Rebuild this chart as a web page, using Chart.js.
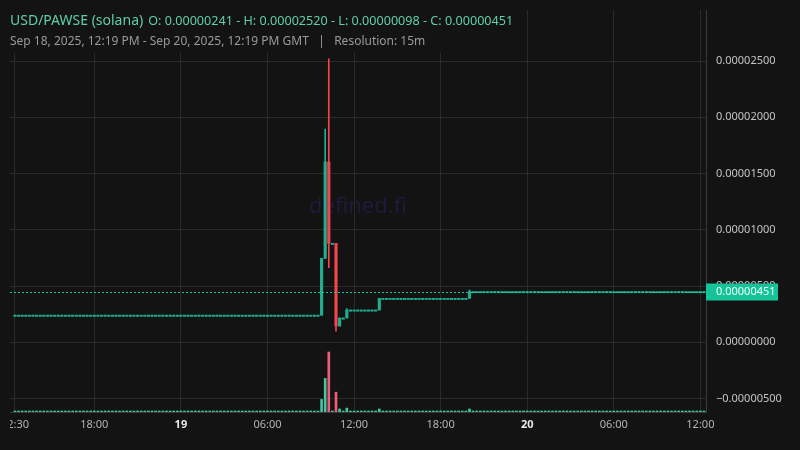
<!DOCTYPE html>
<html><head><meta charset="utf-8">
<script src="https://cdn.jsdelivr.net/npm/chart.js@4.4.1/dist/chart.umd.min.js"></script>
<style>
html,body{margin:0;padding:0;background:#131313;width:800px;height:450px;overflow:hidden;}
#wrap{position:absolute;left:10px;top:0;width:790px;height:450px;}
#hdr{position:absolute;left:0;top:0;width:508px;height:53px;background:#131313;font-family:"Noto Sans",sans-serif;}
#l1{position:absolute;left:10px;top:8px;white-space:nowrap;color:#5fcfac;line-height:22px;}
#l1 .sym{font-size:14px}
#l1 .ohlc{font-size:12.6px;margin-left:5px}
#l2{position:absolute;left:10px;top:31px;white-space:nowrap;color:#9a9a9a;font-size:12px;line-height:20px;}
</style></head><body>
<div id="wrap"><canvas id="c" width="790" height="450"></canvas></div>
<div id="hdr"><div id="l1"><span class="sym" id="sym"></span><span class="ohlc" id="ohlc"></span></div><div id="l2"></div></div>
<script>
// ---- data (15m candles, first candle Sep 18 2025 12:30 GMT) ----
const symbol = "USD/PAWSE (solana)";
const rangeText = "Sep 18, 2025, 12:19 PM - Sep 20, 2025, 12:19 PM GMT";
const resolution = "15m";
const firstCandleHour = 12.5;   // hours since Sep 18 00:00 GMT
const candleStepHours = 0.25;

const open = [
2.41e-6,2.41e-6,2.41e-6,2.41e-6,2.41e-6,2.41e-6,2.41e-6,2.41e-6,2.41e-6,2.41e-6,
2.41e-6,2.41e-6,2.41e-6,2.41e-6,2.41e-6,2.41e-6,2.41e-6,2.41e-6,2.41e-6,2.41e-6,
2.41e-6,2.41e-6,2.41e-6,2.41e-6,2.41e-6,2.41e-6,2.41e-6,2.41e-6,2.41e-6,2.41e-6,
2.41e-6,2.41e-6,2.41e-6,2.41e-6,2.41e-6,2.41e-6,2.41e-6,2.41e-6,2.41e-6,2.41e-6,
2.41e-6,2.41e-6,2.41e-6,2.41e-6,2.41e-6,2.41e-6,2.41e-6,2.41e-6,2.41e-6,2.41e-6,
2.41e-6,2.41e-6,2.41e-6,2.41e-6,2.41e-6,2.41e-6,2.41e-6,2.41e-6,2.41e-6,2.41e-6,
2.41e-6,2.41e-6,2.41e-6,2.41e-6,2.41e-6,2.41e-6,2.41e-6,2.41e-6,2.41e-6,2.41e-6,
2.41e-6,2.41e-6,2.41e-6,2.41e-6,2.41e-6,2.41e-6,2.41e-6,2.41e-6,2.41e-6,2.41e-6,
2.41e-6,2.41e-6,2.41e-6,2.41e-6,2.41e-6,2.41e-6,
7.47e-6,1.603e-5,8.80e-6,8.80e-6,1.45e-6,2.16e-6,2.16e-6,
2.87e-6,2.87e-6,2.87e-6,2.87e-6,2.87e-6,2.87e-6,2.87e-6,2.87e-6,2.87e-6,
3.91e-6,3.91e-6,3.91e-6,3.91e-6,3.91e-6,3.91e-6,3.91e-6,3.91e-6,3.91e-6,3.91e-6,
3.91e-6,3.91e-6,3.91e-6,3.91e-6,3.91e-6,3.91e-6,3.91e-6,3.91e-6,3.91e-6,3.91e-6,
3.91e-6,3.91e-6,3.91e-6,3.91e-6,3.91e-6,
4.51e-6,4.51e-6,4.51e-6,4.51e-6,4.51e-6,4.51e-6,4.51e-6,4.51e-6,4.51e-6,4.51e-6,
4.51e-6,4.51e-6,4.51e-6,4.51e-6,4.51e-6,4.51e-6,4.51e-6,4.51e-6,4.51e-6,4.51e-6,
4.51e-6,4.51e-6,4.51e-6,4.51e-6,4.51e-6,4.51e-6,4.51e-6,4.51e-6,4.51e-6,4.51e-6,
4.51e-6,4.51e-6,4.51e-6,4.51e-6,4.51e-6,4.51e-6,4.51e-6,4.51e-6,4.51e-6,4.51e-6,
4.51e-6,4.51e-6,4.51e-6,4.51e-6,4.51e-6,4.51e-6,4.51e-6,4.51e-6,4.51e-6,4.51e-6,
4.51e-6,4.51e-6,4.51e-6,4.51e-6,4.51e-6,4.51e-6,4.51e-6,4.51e-6,4.51e-6,4.51e-6,
4.51e-6,4.51e-6,4.51e-6,4.51e-6,4.51e-6
];
const high = [
2.41e-6,2.41e-6,2.41e-6,2.41e-6,2.41e-6,2.41e-6,2.41e-6,2.41e-6,2.41e-6,2.41e-6,
2.41e-6,2.41e-6,2.41e-6,2.41e-6,2.41e-6,2.41e-6,2.41e-6,2.41e-6,2.41e-6,2.41e-6,
2.41e-6,2.41e-6,2.41e-6,2.41e-6,2.41e-6,2.41e-6,2.41e-6,2.41e-6,2.41e-6,2.41e-6,
2.41e-6,2.41e-6,2.41e-6,2.41e-6,2.41e-6,2.41e-6,2.41e-6,2.41e-6,2.41e-6,2.41e-6,
2.41e-6,2.41e-6,2.41e-6,2.41e-6,2.41e-6,2.41e-6,2.41e-6,2.41e-6,2.41e-6,2.41e-6,
2.41e-6,2.41e-6,2.41e-6,2.41e-6,2.41e-6,2.41e-6,2.41e-6,2.41e-6,2.41e-6,2.41e-6,
2.41e-6,2.41e-6,2.41e-6,2.41e-6,2.41e-6,2.41e-6,2.41e-6,2.41e-6,2.41e-6,2.41e-6,
2.41e-6,2.41e-6,2.41e-6,2.41e-6,2.41e-6,2.41e-6,2.41e-6,2.41e-6,2.41e-6,2.41e-6,
2.41e-6,2.41e-6,2.41e-6,2.41e-6,2.41e-6,
7.47e-6,1.895e-5,2.520e-5,8.80e-6,8.80e-6,2.16e-6,2.16e-6,2.99e-6,
2.87e-6,2.87e-6,2.87e-6,2.87e-6,2.87e-6,2.87e-6,2.87e-6,2.87e-6,
3.91e-6,3.91e-6,3.91e-6,3.91e-6,3.91e-6,3.91e-6,3.91e-6,3.91e-6,3.91e-6,3.91e-6,
3.91e-6,3.91e-6,3.91e-6,3.91e-6,3.91e-6,3.91e-6,3.91e-6,3.91e-6,3.91e-6,3.91e-6,
3.91e-6,3.91e-6,3.91e-6,3.91e-6,3.91e-6,
4.65e-6,
4.51e-6,4.51e-6,4.51e-6,4.51e-6,4.51e-6,4.51e-6,4.51e-6,4.51e-6,4.51e-6,4.51e-6,
4.51e-6,4.51e-6,4.51e-6,4.51e-6,4.51e-6,4.51e-6,4.51e-6,4.51e-6,4.51e-6,4.51e-6,
4.51e-6,4.51e-6,4.51e-6,4.51e-6,4.51e-6,4.51e-6,4.51e-6,4.51e-6,4.51e-6,4.51e-6,
4.51e-6,4.51e-6,4.51e-6,4.51e-6,4.51e-6,4.51e-6,4.51e-6,4.51e-6,4.51e-6,4.51e-6,
4.51e-6,4.51e-6,4.51e-6,4.51e-6,4.51e-6,4.51e-6,4.51e-6,4.51e-6,4.51e-6,4.51e-6,
4.51e-6,4.51e-6,4.51e-6,4.51e-6,4.51e-6,4.51e-6,4.51e-6,4.51e-6,4.51e-6,4.51e-6,
4.51e-6,4.51e-6,4.51e-6,4.51e-6,4.51e-6
];
const low = [
2.41e-6,2.41e-6,2.41e-6,2.41e-6,2.41e-6,2.41e-6,2.41e-6,2.41e-6,2.41e-6,2.41e-6,
2.41e-6,2.41e-6,2.41e-6,2.41e-6,2.41e-6,2.41e-6,2.41e-6,2.41e-6,2.41e-6,2.41e-6,
2.41e-6,2.41e-6,2.41e-6,2.41e-6,2.41e-6,2.41e-6,2.41e-6,2.41e-6,2.41e-6,2.41e-6,
2.41e-6,2.41e-6,2.41e-6,2.41e-6,2.41e-6,2.41e-6,2.41e-6,2.41e-6,2.41e-6,2.41e-6,
2.41e-6,2.41e-6,2.41e-6,2.41e-6,2.41e-6,2.41e-6,2.41e-6,2.41e-6,2.41e-6,2.41e-6,
2.41e-6,2.41e-6,2.41e-6,2.41e-6,2.41e-6,2.41e-6,2.41e-6,2.41e-6,2.41e-6,2.41e-6,
2.41e-6,2.41e-6,2.41e-6,2.41e-6,2.41e-6,2.41e-6,2.41e-6,2.41e-6,2.41e-6,2.41e-6,
2.41e-6,2.41e-6,2.41e-6,2.41e-6,2.41e-6,2.41e-6,2.41e-6,2.41e-6,2.41e-6,2.41e-6,
2.41e-6,2.41e-6,2.41e-6,2.41e-6,2.41e-6,2.41e-6,
7.43e-6,6.63e-6,8.80e-6,9.8e-7,1.45e-6,2.16e-6,2.16e-6,
2.87e-6,2.87e-6,2.87e-6,2.87e-6,2.87e-6,2.87e-6,2.87e-6,2.87e-6,2.87e-6,
3.91e-6,3.91e-6,3.91e-6,3.91e-6,3.91e-6,3.91e-6,3.91e-6,3.91e-6,3.91e-6,3.91e-6,
3.91e-6,3.91e-6,3.91e-6,3.91e-6,3.91e-6,3.91e-6,3.91e-6,3.91e-6,3.91e-6,3.91e-6,
3.91e-6,3.91e-6,3.91e-6,3.91e-6,3.91e-6,
4.51e-6,4.51e-6,4.51e-6,4.51e-6,4.51e-6,4.51e-6,4.51e-6,4.51e-6,4.51e-6,4.51e-6,
4.51e-6,4.51e-6,4.51e-6,4.51e-6,4.51e-6,4.51e-6,4.51e-6,4.51e-6,4.51e-6,4.51e-6,
4.51e-6,4.51e-6,4.51e-6,4.51e-6,4.51e-6,4.51e-6,4.51e-6,4.51e-6,4.51e-6,4.51e-6,
4.51e-6,4.51e-6,4.51e-6,4.51e-6,4.51e-6,4.51e-6,4.51e-6,4.51e-6,4.51e-6,4.51e-6,
4.51e-6,4.51e-6,4.51e-6,4.51e-6,4.51e-6,4.51e-6,4.51e-6,4.51e-6,4.51e-6,4.51e-6,
4.51e-6,4.51e-6,4.51e-6,4.51e-6,4.51e-6,4.51e-6,4.51e-6,4.51e-6,4.51e-6,4.51e-6,
4.51e-6,4.51e-6,4.51e-6,4.51e-6,4.51e-6
];
const close = [
2.41e-6,2.41e-6,2.41e-6,2.41e-6,2.41e-6,2.41e-6,2.41e-6,2.41e-6,2.41e-6,2.41e-6,
2.41e-6,2.41e-6,2.41e-6,2.41e-6,2.41e-6,2.41e-6,2.41e-6,2.41e-6,2.41e-6,2.41e-6,
2.41e-6,2.41e-6,2.41e-6,2.41e-6,2.41e-6,2.41e-6,2.41e-6,2.41e-6,2.41e-6,2.41e-6,
2.41e-6,2.41e-6,2.41e-6,2.41e-6,2.41e-6,2.41e-6,2.41e-6,2.41e-6,2.41e-6,2.41e-6,
2.41e-6,2.41e-6,2.41e-6,2.41e-6,2.41e-6,2.41e-6,2.41e-6,2.41e-6,2.41e-6,2.41e-6,
2.41e-6,2.41e-6,2.41e-6,2.41e-6,2.41e-6,2.41e-6,2.41e-6,2.41e-6,2.41e-6,2.41e-6,
2.41e-6,2.41e-6,2.41e-6,2.41e-6,2.41e-6,2.41e-6,2.41e-6,2.41e-6,2.41e-6,2.41e-6,
2.41e-6,2.41e-6,2.41e-6,2.41e-6,2.41e-6,2.41e-6,2.41e-6,2.41e-6,2.41e-6,2.41e-6,
2.41e-6,2.41e-6,2.41e-6,2.41e-6,2.41e-6,
7.47e-6,1.603e-5,8.80e-6,8.80e-6,1.45e-6,2.16e-6,2.16e-6,2.87e-6,
2.87e-6,2.87e-6,2.87e-6,2.87e-6,2.87e-6,2.87e-6,2.87e-6,2.87e-6,
3.91e-6,3.91e-6,3.91e-6,3.91e-6,3.91e-6,3.91e-6,3.91e-6,3.91e-6,3.91e-6,3.91e-6,
3.91e-6,3.91e-6,3.91e-6,3.91e-6,3.91e-6,3.91e-6,3.91e-6,3.91e-6,3.91e-6,3.91e-6,
3.91e-6,3.91e-6,3.91e-6,3.91e-6,3.91e-6,
4.51e-6,4.51e-6,4.51e-6,4.51e-6,4.51e-6,4.51e-6,4.51e-6,4.51e-6,4.51e-6,4.51e-6,
4.51e-6,4.51e-6,4.51e-6,4.51e-6,4.51e-6,4.51e-6,4.51e-6,4.51e-6,4.51e-6,4.51e-6,
4.51e-6,4.51e-6,4.51e-6,4.51e-6,4.51e-6,4.51e-6,4.51e-6,4.51e-6,4.51e-6,4.51e-6,
4.51e-6,4.51e-6,4.51e-6,4.51e-6,4.51e-6,4.51e-6,4.51e-6,4.51e-6,4.51e-6,4.51e-6,
4.51e-6,4.51e-6,4.51e-6,4.51e-6,4.51e-6,4.51e-6,4.51e-6,4.51e-6,4.51e-6,4.51e-6,
4.51e-6,4.51e-6,4.51e-6,4.51e-6,4.51e-6,4.51e-6,4.51e-6,4.51e-6,4.51e-6,4.51e-6,
4.51e-6,4.51e-6,4.51e-6,4.51e-6,4.51e-6,4.51e-6
];
const volume = [
0.4,0.4,0.4,0.4,0.4,0.4,0.4,0.4,0.4,0.4,
0.4,0.4,0.4,0.4,0.4,0.4,0.4,0.4,0.4,0.4,
0.4,0.4,0.4,0.4,0.4,0.4,0.4,0.4,0.4,0.4,
0.4,0.4,0.4,0.4,0.4,0.4,0.4,0.4,0.4,0.4,
0.4,0.4,0.4,0.4,0.4,0.4,0.4,0.4,0.4,0.4,
0.4,0.4,0.4,0.4,0.4,0.4,0.4,0.4,0.4,0.4,
0.4,0.4,0.4,0.4,0.4,0.4,0.4,0.4,0.4,0.4,
0.4,0.4,0.4,0.4,0.4,0.4,0.4,0.4,0.4,0.4,
0.4,0.4,0.4,0.4,0.4,
21,56,100,0.4,33,5,0.4,6.5,
0.4,0.4,0.4,0.4,0.4,0.4,0.4,0.4,
5,
0.4,0.4,0.4,0.4,0.4,0.4,0.4,0.4,0.4,0.4,
0.4,0.4,0.4,0.4,0.4,0.4,0.4,0.4,0.4,0.4,
0.4,0.4,0.4,0.4,
5,
0.4,0.4,0.4,0.4,0.4,0.4,0.4,0.4,0.4,0.4,
0.4,0.4,0.4,0.4,0.4,0.4,0.4,0.4,0.4,0.4,
0.4,0.4,0.4,0.4,0.4,0.4,0.4,0.4,0.4,0.4,
0.4,0.4,0.4,0.4,0.4,0.4,0.4,0.4,0.4,0.4,
0.4,0.4,0.4,0.4,0.4,0.4,0.4,0.4,0.4,0.4,
0.4,0.4,0.4,0.4,0.4,0.4,0.4,0.4,0.4,0.4,
0.4,0.4,0.4,0.4,0.4
];
const yTickValues = [-0.000005, 0, 0.000005, 0.00001, 0.000015, 0.00002, 0.000025];
const xTickHours  = [12.5, 18, 24, 30, 36, 42, 48, 54, 60];
const xTickLabels = ["12:30", "18:00", "19", "06:00", "12:00", "18:00", "20", "06:00", "12:00"];
const boldXTicks = ["19", "20"];

// ---- sanity ----
const n = close.length;
[open, high, low, volume].forEach((a, i) => { if (a.length !== n) throw new Error("length mismatch " + i + ": " + a.length + " vs " + n); });

// ---- header text ----
const fmt = v => (v < 0 ? "\u2212" : "") + Math.abs(v).toFixed(8);
document.getElementById("sym").textContent = symbol;
document.getElementById("ohlc").textContent =
  "O: " + fmt(open[0]) + " - H: " + fmt(Math.max(...high)) + " - L: " + fmt(Math.min(...low)) + " - C: " + fmt(close[n - 1]);
document.getElementById("l2").innerHTML = rangeText + " &nbsp;&nbsp;|&nbsp;&nbsp; Resolution: " + resolution;

const UP = "#1fae8f", DOWN = "#f2454d", VUP = "#45c5a0", VDOWN = "#ee5d78";
const times = close.map((_, i) => firstCandleHour + i * candleStepHours);
const isUp = close.map((c, i) => c >= open[i]);

const overlay = {
  id: "overlay",
  beforeDatasetsDraw(chart) {
    const { ctx, chartArea: a } = chart;
    ctx.save();
    ctx.font = '22px "Noto Sans", sans-serif';
    ctx.fillStyle = "#1e1c3a";
    ctx.textAlign = "center";
    ctx.textBaseline = "middle";
    ctx.fillText("defined.fi", (a.left + a.right) / 2, (a.top + a.bottom) / 2 - 4);
    ctx.restore();
  },
  afterDatasetsDraw(chart) {
    const { ctx, chartArea: a } = chart;
    const y = Math.round(chart.scales.y.getPixelForValue(close[n - 1])) + 0.5;
    ctx.save();
    ctx.strokeStyle = "#19c79b";
    ctx.lineWidth = 1;
    ctx.setLineDash([2, 2]);
    ctx.beginPath(); ctx.moveTo(a.left, y); ctx.lineTo(a.right, y); ctx.stroke();
    ctx.restore();
  },
  afterDraw(chart) {
    const { ctx, chartArea: a } = chart;
    const y = chart.scales.y.getPixelForValue(close[n - 1]);
    ctx.save();
    ctx.fillStyle = "#14c398";
    ctx.fillRect(a.right, Math.round(y) - 8.5, 72, 17);
    ctx.fillStyle = "#f2fffa";
    ctx.font = '11px "Noto Sans", sans-serif';
    ctx.textBaseline = "middle";
    ctx.textAlign = "left";
    ctx.fillText(fmt(close[n - 1]), a.right + 10, Math.round(y));
    ctx.restore();
  }
};

new Chart(document.getElementById("c"), {
  type: "bar",
  data: {
    datasets: [
      { label: "body", order: 0, yAxisID: "y", grouped: false,
        data: times.map((t, i) => ({ x: t, y: [open[i], close[i]] })),
        backgroundColor: isUp.map(u => u ? UP : DOWN),
        barThickness: 2.5, minBarLength: 1.2, borderWidth: 0 },
      { label: "wick", order: 1, yAxisID: "y", grouped: false,
        data: times.map((t, i) => ({ x: t, y: [low[i], high[i]] })),
        backgroundColor: isUp.map(u => u ? UP : DOWN),
        barThickness: 1, borderWidth: 0 },
      { label: "volume", order: 2, yAxisID: "yv", grouped: false,
        data: times.map((t, i) => ({ x: t, y: volume[i] })),
        backgroundColor: isUp.map(u => u ? VUP : VDOWN),
        barThickness: 2, minBarLength: 1, borderWidth: 0 }
    ]
  },
  options: {
    responsive: false,
    animation: false,
    devicePixelRatio: 1,
    layout: { padding: { top: 10, left: 0, right: 0, bottom: 0 } },
    plugins: { legend: { display: false }, tooltip: { enabled: false } },
    scales: {
      x: {
        type: "linear", position: "bottom", min: 12.158, max: 60.39, offset: false,
        grid: { color: "#2a2a2a", drawTicks: false, offset: false },
        border: { display: true, color: "#3a3a3a" },
        ticks: {
          autoSkip: false, maxRotation: 0, padding: 6,
          callback: (v, i) => xTickLabels[i],
          color: c => boldXTicks.includes(xTickLabels[c.index]) ? "#e8e8e8" : "#b4b4b4",
          font: c => ({ family: '"Noto Sans", sans-serif', size: 11, weight: boldXTicks.includes(xTickLabels[c.index]) ? "bold" : "normal" })
        },
        afterBuildTicks: s => { s.ticks = xTickHours.map(v => ({ value: v })); },
        afterFit: s => { s.height = 38; s.paddingLeft = 0; s.paddingRight = 0; }
      },
      y: {
        type: "linear", position: "right", min: -6.196e-6, max: 2.9538e-5,
        grid: { color: "#2a2a2a", drawTicks: false },
        border: { display: true, color: "#3a3a3a" },
        ticks: { padding: 10, color: "#c4c4c4", font: { family: '"Noto Sans", sans-serif', size: 11 },
          callback: v => fmt(v) },
        afterBuildTicks: s => { s.ticks = yTickValues.map(v => ({ value: v })); },
        afterFit: s => { s.width = 94; s.paddingTop = 0; s.paddingBottom = 0; }
      },
      yv: { type: "linear", display: false, min: 0, max: 670 }
    }
  },
  plugins: [overlay]
});
</script>
</body></html>
